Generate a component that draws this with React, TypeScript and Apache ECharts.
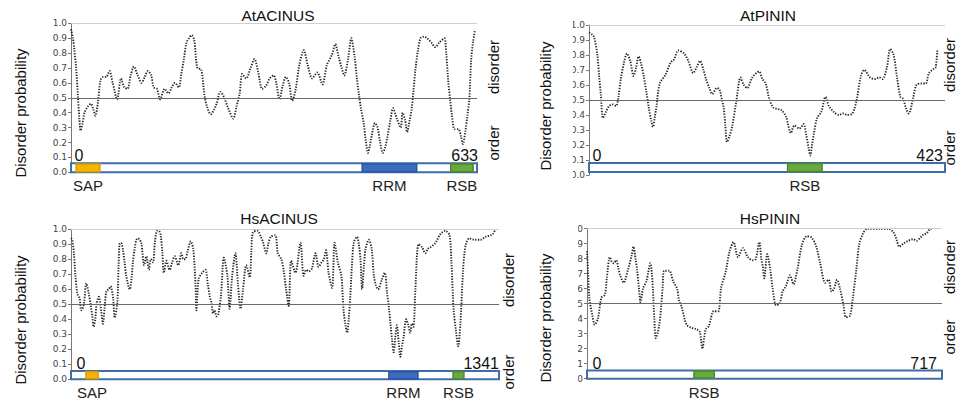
import React, { useEffect, useRef } from "react";
import * as echarts from "echarts";

// ---------- data (residue, disorder probability) ----------
const atAcinusLength = 633;
const atAcinusProfile: [number, number][] = [[0,0.96],[3,0.9],[5,0.83],[8,0.7],[11,0.5],[13,0.36],[15,0.28],[18,0.33],[21,0.4],[26,0.44],[31,0.46],[35,0.42],[38,0.38],[42,0.47],[46,0.62],[50,0.64],[55,0.64],[60,0.68],[65,0.6],[72,0.49],[78,0.63],[83,0.57],[88,0.56],[93,0.65],[98,0.71],[104,0.65],[110,0.6],[115,0.64],[120,0.68],[125,0.65],[129,0.57],[134,0.56],[139,0.49],[146,0.56],[152,0.53],[157,0.57],[162,0.6],[168,0.57],[172,0.66],[176,0.76],[180,0.87],[184,0.9],[188,0.92],[192,0.89],[197,0.7],[203,0.69],[208,0.52],[212,0.44],[218,0.39],[223,0.42],[227,0.46],[233,0.54],[239,0.5],[245,0.43],[253,0.36],[258,0.44],[263,0.53],[267,0.66],[273,0.63],[280,0.7],[286,0.76],[292,0.67],[298,0.56],[304,0.58],[310,0.63],[316,0.65],[320,0.6],[325,0.49],[330,0.58],[335,0.64],[340,0.6],[345,0.48],[350,0.55],[356,0.72],[363,0.82],[369,0.72],[376,0.63],[384,0.67],[392,0.59],[399,0.72],[407,0.79],[412,0.86],[417,0.78],[422,0.7],[426,0.65],[432,0.76],[437,0.9],[442,0.78],[446,0.62],[449,0.52],[452,0.43],[456,0.34],[460,0.2],[463,0.13],[466,0.18],[469,0.25],[474,0.33],[478,0.3],[482,0.2],[486,0.13],[490,0.17],[493,0.23],[498,0.35],[502,0.43],[508,0.36],[514,0.3],[517,0.4],[521,0.35],[524,0.27],[528,0.35],[531,0.42],[534,0.55],[537,0.69],[541,0.82],[545,0.9],[550,0.91],[555,0.9],[562,0.87],[568,0.84],[574,0.87],[582,0.9],[585,0.8],[588,0.62],[591,0.49],[594,0.38],[598,0.29],[604,0.29],[608,0.24],[611,0.19],[615,0.28],[618,0.38],[621,0.49],[624,0.76],[627,0.88],[630,0.96]];
const atAcinusDomains = [
  { name: "SAP", start: 8, end: 45, kind: "SAP" },
  { name: "RRM", start: 454, end: 539, kind: "RRM" },
  { name: "RSB", start: 592, end: 627, kind: "RSB" },
];

const atPininLength = 423;
const atPininProfile: [number, number][] = [[0,0.95],[3,0.94],[6,0.92],[10,0.8],[12,0.66],[14,0.54],[16.6,0.38],[20,0.42],[24,0.46],[28,0.47],[32,0.46],[35,0.52],[38,0.65],[42,0.76],[45,0.81],[49,0.76],[53,0.66],[56,0.72],[59,0.79],[62,0.74],[65,0.66],[68,0.56],[71,0.45],[74,0.36],[76,0.32],[78,0.38],[80,0.45],[84,0.61],[91,0.67],[97,0.75],[101,0.77],[106,0.83],[113,0.81],[118,0.76],[124,0.68],[128,0.72],[132,0.76],[136,0.7],[139,0.64],[143,0.58],[146.5,0.54],[152,0.58],[155,0.57],[158,0.5],[160,0.45],[162,0.33],[164,0.22],[167,0.26],[170,0.32],[175,0.49],[180,0.65],[184,0.6],[188,0.58],[194,0.65],[202,0.69],[206,0.64],[210,0.61],[214,0.51],[219,0.45],[224,0.44],[229,0.43],[234,0.39],[240,0.28],[244,0.33],[250,0.31],[255,0.34],[258,0.27],[261,0.18],[263,0.13],[265,0.2],[267,0.27],[271,0.38],[276,0.42],[281,0.52],[285,0.46],[291,0.42],[297,0.4],[302,0.41],[307,0.4],[313,0.41],[318,0.5],[323,0.66],[327,0.7],[334,0.65],[339,0.64],[345,0.65],[349,0.64],[354,0.72],[358,0.84],[362,0.8],[366,0.65],[370,0.52],[373,0.51],[377,0.44],[380,0.41],[385,0.51],[389,0.6],[395,0.61],[400,0.61],[404,0.68],[410,0.71],[412,0.72],[414,0.84]];
const atPininDomains = [{ name: "RSB", start: 236, end: 277, kind: "RSB" }];

const hsAcinusLength = 1341;
const hsAcinusProfile: [number, number][] = [[0,0.94],[4,0.93],[9,0.84],[14,0.69],[20,0.57],[27,0.54],[32,0.46],[36,0.47],[41,0.51],[48,0.64],[55,0.58],[62,0.49],[67,0.42],[71,0.35],[76,0.4],[80,0.5],[87,0.55],[95,0.45],[100,0.37],[105,0.47],[111,0.59],[118,0.6],[124,0.62],[132,0.54],[137,0.41],[145,0.51],[149,0.75],[152,0.9],[157,0.91],[163,0.86],[168,0.78],[173,0.69],[184,0.6],[190,0.68],[194,0.78],[200,0.88],[205,0.93],[210,0.94],[220,0.91],[229,0.76],[236,0.82],[244,0.73],[250,0.8],[257,0.78],[263,0.92],[270,0.99],[275,0.99],[281,0.96],[286,0.85],[291,0.71],[299,0.79],[309,0.73],[317,0.78],[325,0.82],[336,0.76],[346,0.84],[352,0.8],[358,0.8],[365,0.85],[375,0.92],[383,0.87],[390,0.64],[393,0.46],[400,0.67],[411,0.71],[421,0.73],[429,0.63],[435,0.55],[440,0.51],[445,0.44],[450,0.46],[456,0.42],[461,0.43],[470,0.56],[479,0.81],[490,0.69],[497,0.47],[505,0.69],[515,0.84],[523,0.64],[531,0.47],[539,0.6],[549,0.76],[560,0.68],[565,0.85],[570,0.98],[584,0.99],[595,0.95],[602,0.91],[612,0.84],[618,0.9],[626,0.95],[640,0.96],[648,0.84],[659,0.8],[666,0.73],[674,0.6],[682,0.49],[690,0.79],[703,0.71],[719,0.91],[729,0.69],[737,0.73],[745,0.72],[755,0.74],[766,0.84],[776,0.75],[785,0.78],[792,0.8],[799,0.86],[807,0.71],[818,0.61],[826,0.91],[836,0.78],[847,0.69],[854,0.46],[860,0.36],[865,0.31],[870,0.4],[875,0.55],[880,0.75],[886,0.91],[896,0.95],[902,0.9],[907,0.8],[912,0.6],[918,0.76],[923,0.87],[933,0.93],[942,0.87],[949,0.69],[955,0.63],[962,0.6],[973,0.66],[983,0.71],[990,0.58],[996,0.48],[1001,0.37],[1006,0.26],[1011,0.18],[1016,0.28],[1021,0.36],[1027,0.24],[1032,0.15],[1037,0.22],[1042,0.28],[1050,0.4],[1057,0.36],[1063,0.31],[1068,0.37],[1073,0.35],[1079,0.6],[1089,0.9],[1100,0.88],[1110,0.84],[1118,0.87],[1126,0.88],[1142,0.91],[1158,0.97],[1173,0.99],[1186,0.96],[1192,0.78],[1199,0.46],[1207,0.31],[1213,0.22],[1220,0.37],[1228,0.71],[1236,0.89],[1248,0.94],[1265,0.93],[1283,0.93],[1299,0.95],[1315,0.96],[1322,0.97],[1330,1.0]];
const hsAcinusDomains = [
  { name: "SAP", start: 47, end: 85, kind: "SAP" },
  { name: "RRM", start: 996, end: 1087, kind: "RRM" },
  { name: "RSB", start: 1197, end: 1231, kind: "RSB" },
];

const hsPininLength = 717;
const hsPininProfile: [number, number][] = [[0,0.85],[2,0.72],[5,0.53],[11,0.42],[15.5,0.36],[22,0.4],[29,0.54],[36,0.56],[40,0.67],[46,0.81],[50,0.78],[54,0.77],[59,0.79],[63,0.74],[67,0.69],[74,0.64],[83,0.73],[90,0.82],[94,0.88],[98,0.8],[101,0.73],[105,0.6],[108,0.51],[113,0.6],[120,0.65],[128,0.77],[131,0.7],[133,0.6],[136,0.4],[139,0.27],[145.6,0.35],[150,0.49],[153,0.62],[156,0.72],[166,0.72],[174,0.65],[182,0.6],[186,0.52],[191,0.48],[201,0.36],[211,0.34],[221,0.33],[228,0.31],[233,0.2],[237,0.28],[240,0.33],[246,0.35],[256,0.45],[265,0.45],[271,0.61],[280,0.71],[288,0.85],[296,0.91],[305,0.81],[315,0.87],[325,0.81],[335,0.79],[341,0.8],[348,0.91],[352,0.8],[355,0.75],[358,0.67],[364,0.83],[370,0.73],[375,0.6],[382,0.49],[389,0.5],[395,0.58],[402,0.62],[410,0.69],[417,0.63],[425,0.73],[434,0.89],[444,0.95],[454,0.94],[463,0.88],[471,0.77],[481,0.64],[488,0.66],[494,0.58],[499,0.6],[505,0.66],[511,0.6],[518,0.49],[523,0.41],[531,0.42],[537,0.54],[544,0.73],[550,0.9],[558,0.97],[566,1.0],[590,1.0],[609,1.0],[618,0.98],[624,0.94],[631,0.88],[639,0.9],[649,0.92],[659,0.93],[666,0.92],[673,0.94],[679,0.96],[686,0.97],[694,1.0],[699,1.0]];
const hsPininDomains = [{ name: "RSB", start: 216, end: 257, kind: "RSB" }];

const thresholdValue = 0.5;
const yTickValues = [0, 0.1, 0.2, 0.3, 0.4, 0.5, 0.6, 0.7, 0.8, 0.9, 1.0];

// ---------- styling / layout ----------
const FONT = "'Liberation Sans', Arial, Helvetica, sans-serif";
const domainStyle: Record<string, { fill: string; border: string }> = {
  SAP: { fill: "#f5b400", border: "#dc9c00" },
  RRM: { fill: "#3c6cc2", border: "#2b569f" },
  RSB: { fill: "#6aa93e", border: "#4e8a2d" },
};

const panels = [
  {
    title: "AtACINUS", length: atAcinusLength, profile: atAcinusProfile, domains: atAcinusDomains,
    left: 71, top: 23.3, width: 406, height: 149, barLo: 0.0, barHi: 0.06,
    titleX: 278, titleY: 15, ylabX: 20, ylabY: 113, sideX: 493, disY: 67, ordY: 143,
    zeroX: 79, numY: 155, lenRight: 478, clipFrom: 0, clipTo: 0,
  },
  {
    title: "AtPININ", length: atPininLength, profile: atPininProfile, domains: atPininDomains,
    left: 589, top: 25, width: 356, height: 150, barLo: 0.02, barHi: 0.08,
    titleX: 768, titleY: 15, ylabX: 545, ylabY: 106, sideX: 949, disY: 65, ordY: 148,
    zeroX: 597, numY: 155, lenRight: 943, clipFrom: 558, clipTo: 573,
  },
  {
    title: "HsACINUS", length: hsAcinusLength, profile: hsAcinusProfile, domains: hsAcinusDomains,
    left: 71, top: 229.3, width: 428, height: 150, barLo: 0.0, barHi: 0.055,
    titleX: 279, titleY: 218, ylabX: 20, ylabY: 320, sideX: 508, disY: 280, ordY: 372,
    zeroX: 81, numY: 363, lenRight: 499, clipFrom: 0, clipTo: 0,
  },
  {
    title: "HsPININ", length: hsPininLength, profile: hsPininProfile, domains: hsPininDomains,
    left: 587, top: 228.7, width: 355, height: 150, barLo: 0.0, barHi: 0.055,
    titleX: 770, titleY: 218, ylabX: 545, ylabY: 318, sideX: 949, disY: 267, ordY: 337,
    zeroX: 597, numY: 363, lenRight: 937, clipFrom: 558, clipTo: 578,
  },
];

function buildOption() {
  const grid: any[] = [];
  const xAxis: any[] = [];
  const yAxis: any[] = [];
  const series: any[] = [];
  const graphic: any[] = [];

  panels.forEach((p, i) => {
    grid.push({ left: p.left, top: p.top, width: p.width, height: p.height, containLabel: false });
    xAxis.push({ gridIndex: i, type: "value", min: 0, max: p.length, show: false });
    yAxis.push({
      gridIndex: i, type: "value", min: yTickValues[0], max: yTickValues[yTickValues.length - 1], interval: 0.1,
      axisLine: { show: true, lineStyle: { color: "#777", width: 1 } },
      axisTick: { show: true, length: 3, lineStyle: { color: "#777" } },
      axisLabel: { fontSize: 9, color: "#444", margin: 4, fontFamily: "'DejaVu Sans', sans-serif",
        formatter: (v: number) => v.toFixed(1) },
      splitLine: { show: false },
    });

    const areas: any[] = [
      [
        { xAxis: 0, yAxis: p.barLo, itemStyle: { color: "#ffffff", borderColor: "#3d6fa6", borderWidth: 2 } },
        { xAxis: p.length, yAxis: p.barHi },
      ],
    ];
    p.domains.forEach((d) => {
      const st = domainStyle[d.kind];
      areas.push([
        {
          xAxis: d.start, yAxis: p.barLo + 0.004, name: d.name,
          itemStyle: { color: st.fill, borderColor: st.border, borderWidth: 1.5, opacity: 1 },
          label: { show: true, position: "bottom", distance: 6, fontSize: 15, color: "#222", fontFamily: FONT, formatter: d.name },
        },
        { xAxis: d.end, yAxis: p.barHi - 0.004 },
      ]);
    });

    series.push({
      type: "line", xAxisIndex: i, yAxisIndex: i, data: p.profile,
      showSymbol: false, smooth: 0.3, silent: true, z: 3,
      lineStyle: { color: "#262626", width: 1.9, type: [1.3, 1.4] },
      markLine: {
        silent: true, symbol: "none", label: { show: false },
        data: [
          { yAxis: thresholdValue, lineStyle: { color: "#6a6a6a", width: 1, type: "solid" } },
          { yAxis: 1, lineStyle: { color: "#cfcfcf", width: 1, type: "solid" } },
        ],
      },
      markArea: { silent: true, label: { show: false }, data: areas },
    });

    graphic.push(
      { type: "text", x: p.titleX, y: p.titleY, style: { text: p.title, font: `15.5px ${FONT}`, fill: "#111", textAlign: "center", textVerticalAlign: "middle" } },
      { type: "text", x: p.ylabX, y: p.ylabY, rotation: Math.PI / 2, style: { text: "Disorder probability", font: `15px ${FONT}`, fill: "#111", textAlign: "center", textVerticalAlign: "middle" } },
      { type: "text", x: p.sideX, y: p.disY, rotation: Math.PI / 2, style: { text: "disorder", font: `15px ${FONT}`, fill: "#111", textAlign: "center", textVerticalAlign: "middle" } },
      { type: "text", x: p.sideX, y: p.ordY, rotation: Math.PI / 2, style: { text: "order", font: `15px ${FONT}`, fill: "#111", textAlign: "center", textVerticalAlign: "middle" } },
      { type: "text", x: p.zeroX, y: p.numY, style: { text: "0", font: `16px ${FONT}`, fill: "#111", textAlign: "center", textVerticalAlign: "middle" } },
      { type: "text", x: p.lenRight, y: p.numY, style: { text: String(p.length), font: `16px ${FONT}`, fill: "#111", textAlign: "right", textVerticalAlign: "middle" } },
    );
    if (p.clipTo > p.clipFrom) {
      graphic.push({ type: "rect", z: 100, shape: { x: p.clipFrom, y: p.top - 8, width: p.clipTo - p.clipFrom, height: p.height + 16 }, style: { fill: "#ffffff" } });
    }
  });

  return { animation: false, backgroundColor: "#ffffff", grid, xAxis, yAxis, series, graphic };
}

export default function App() {
  const ref = useRef<HTMLDivElement>(null);
  useEffect(() => {
    if (!ref.current) return;
    const chart = echarts.init(ref.current, null, { renderer: "svg", width: 958, height: 404 });
    chart.setOption(buildOption() as any);
    return () => chart.dispose();
  }, []);
  return <div ref={ref} style={{ position: "fixed", left: 0, top: 0, width: 958, height: 404, background: "#fff" }} />;
}
